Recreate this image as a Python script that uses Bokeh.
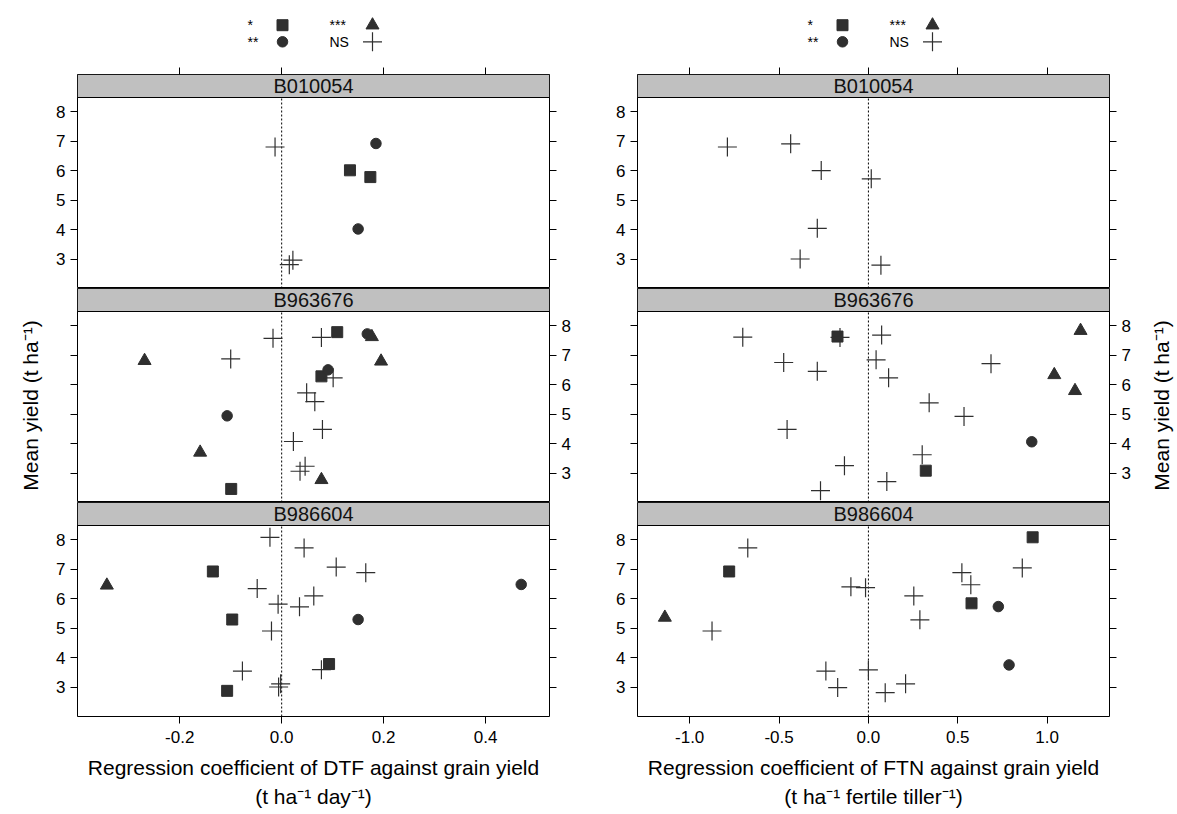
import math
from bokeh.plotting import figure
from bokeh.models import (Range1d, LinearAxis, FixedTicker, Span, Label, Title,
                          CustomJSTickFormatter, PrintfTickFormatter)
from bokeh.core.properties import value
from bokeh.layouts import row, column
from bokeh.embed import file_html
from bokeh.resources import INLINE

FONT = "Liberation Sans"

# ---------------- data ----------------
GENOTYPES = ["B010054", "B963676", "B986604"]
SIG_LEVELS = ["*", "**", "***", "NS"]
YIELD_TICKS = [3, 4, 5, 6, 7, 8]
DTF_TICKS = [-0.2, 0.0, 0.2, 0.4]
FTN_TICKS = [-1.0, -0.5, 0.0, 0.5, 1.0]

# DTF regression coefficients (t ha-1 day-1) vs mean yield
DTF_B010054_X = [-0.013, 0.185, 0.134, 0.174, 0.150, 0.022, 0.015]
DTF_B010054_Y = [6.80, 6.92, 6.01, 5.78, 4.02, 2.96, 2.81]
DTF_B010054_SIG = ["NS", "**", "*", "*", "**", "NS", "NS"]

DTF_B963676_X = [-0.017, 0.078, 0.109, 0.168, 0.177, -0.269, -0.100, 0.195, 0.091, 0.078,
                 0.101, 0.049, 0.065, -0.107, 0.080, 0.023, -0.160, 0.046, 0.036, 0.078, -0.099]
DTF_B963676_Y = [7.57, 7.60, 7.78, 7.72, 7.62, 6.81, 6.87, 6.79, 6.50, 6.28,
                 6.23, 5.72, 5.42, 4.94, 4.48, 4.07, 3.70, 3.23, 3.06, 2.77, 2.46]
DTF_B963676_SIG = ["NS", "NS", "*", "**", "***", "***", "NS", "***", "**", "*",
                   "NS", "NS", "NS", "**", "NS", "NS", "***", "NS", "NS", "***", "*"]

DTF_B986604_X = [-0.023, 0.044, 0.107, 0.165, -0.135, -0.343, 0.470, -0.048, 0.063, -0.007,
                 0.035, -0.097, 0.150, -0.020, 0.093, 0.078, -0.077, -0.002, -0.006, -0.107]
DTF_B986604_Y = [8.08, 7.72, 7.07, 6.88, 6.92, 6.45, 6.48, 6.34, 6.09, 5.81,
                 5.72, 5.29, 5.29, 4.90, 3.78, 3.59, 3.54, 3.11, 3.00, 2.87]
DTF_B986604_SIG = ["NS", "NS", "NS", "NS", "*", "***", "**", "NS", "NS", "NS",
                   "NS", "*", "**", "NS", "*", "NS", "NS", "NS", "NS", "*"]

# FTN regression coefficients (t ha-1 fertile tiller-1) vs mean yield
FTN_B010054_X = [-0.789, -0.435, -0.264, 0.016, -0.286, -0.382, 0.070]
FTN_B010054_Y = [6.80, 6.91, 6.00, 5.72, 4.04, 3.00, 2.79]
FTN_B010054_SIG = ["NS", "NS", "NS", "NS", "NS", "NS", "NS"]

FTN_B963676_X = [-0.703, -0.173, -0.159, 0.074, -0.474, -0.286, 0.043, 0.113, 0.686, 1.187,
                 1.040, 1.156, 0.340, 0.535, -0.455, 0.914, 0.301, 0.321, -0.134, 0.103, -0.268]
FTN_B963676_Y = [7.61, 7.63, 7.60, 7.68, 6.75, 6.45, 6.84, 6.23, 6.71, 7.83,
                 6.33, 5.79, 5.38, 4.92, 4.48, 4.06, 3.62, 3.08, 3.25, 2.71, 2.40]
FTN_B963676_SIG = ["NS", "*", "NS", "NS", "NS", "NS", "NS", "NS", "NS", "***",
                   "***", "***", "NS", "NS", "NS", "**", "NS", "*", "NS", "NS", "NS"]

FTN_B986604_X = [-0.675, -0.779, -1.139, -0.875, -0.098, -0.016, 0.254, 0.288, 0.523, 0.573,
                 0.861, 0.919, 0.577, 0.727, 0.787, -0.238, 0.000, -0.172, 0.094, 0.208]
FTN_B986604_Y = [7.72, 6.92, 5.36, 4.90, 6.40, 6.37, 6.09, 5.28, 6.88, 6.47,
                 7.04, 8.08, 5.84, 5.73, 3.75, 3.54, 3.58, 2.98, 2.81, 3.11]
FTN_B986604_SIG = ["NS", "*", "***", "NS", "NS", "NS", "NS", "NS", "NS", "NS",
                   "NS", "*", "*", "**", "**", "NS", "NS", "NS", "NS", "NS"]

DTF_PANELS = [(DTF_B010054_X, DTF_B010054_Y, DTF_B010054_SIG),
              (DTF_B963676_X, DTF_B963676_Y, DTF_B963676_SIG),
              (DTF_B986604_X, DTF_B986604_Y, DTF_B986604_SIG)]
FTN_PANELS = [(FTN_B010054_X, FTN_B010054_Y, FTN_B010054_SIG),
              (FTN_B963676_X, FTN_B963676_Y, FTN_B963676_SIG),
              (FTN_B986604_X, FTN_B986604_Y, FTN_B986604_SIG)]

Y_TITLE = "Mean yield (t ha\u207b\u00b9)"

# ---------------- layout / style ----------------
FRAME_W = 472
FRAME_H = 214
STRIP_PX = 23
LEG_H = 62
TOP_B = 12
BOT_B = 95
TOTAL_H = LEG_H + TOP_B + 3 * FRAME_H + BOT_B
Y0, Y1 = 2.0, 8.48
Y_END = Y0 + (Y1 - Y0) * FRAME_H / (FRAME_H - STRIP_PX)
XR = {"DTF": (-0.4006, 0.5255), "FTN": (-1.292, 1.349)}
TITLE_W = [50, 37]
TITLE_X = [30, 22]
TITLE_Y = 405
BL = [27, 48]
BR = [40, 30]
INK = "#2f2f2f"
MARKER_STYLE = {"*": ("square", 11), "**": ("circle", 10.5),
                "***": ("triangle", 13), "NS": ("cross", 19)}


def style_axis(ax, ticks, show, fmt="%d"):
    ax.ticker = FixedTicker(ticks=ticks)
    ax.axis_line_color = None
    ax.major_tick_line_color = "black"
    ax.major_tick_in = 0
    ax.major_tick_out = 7
    ax.minor_tick_line_color = None
    ax.major_label_text_font = FONT
    ax.major_label_text_font_size = "17px"
    ax.major_label_text_color = "black"
    ax.major_label_standoff = 5
    ax.axis_label_text_font = FONT
    ax.axis_label_text_font_size = "21px"
    ax.axis_label_text_font_style = "normal"
    ax.axis_label_text_color = "black"
    if show:
        ax.formatter = PrintfTickFormatter(format=fmt)
    else:
        ax.formatter = CustomJSTickFormatter(code="return ''")


def make_panel(kind, col, pos, data, genotype):
    xs, ys, sigs = data
    bl, br = BL[col], BR[col]
    bt = TOP_B if pos == 0 else 0
    bb = BOT_B if pos == 2 else 0
    x0, x1 = XR[kind]
    p = figure(width=bl + FRAME_W + br, height=bt + FRAME_H + bb,
               x_range=Range1d(x0, x1), y_range=Range1d(Y0, Y_END),
               x_axis_location=None, y_axis_location=None,
               output_backend="svg", toolbar_location=None,
               min_border_left=bl, min_border_right=br,
               min_border_top=bt, min_border_bottom=bb)
    p.outline_line_color = "black"
    p.outline_line_width = 1
    p.background_fill_color = "white"
    p.border_fill_color = "white"
    p.grid.visible = False

    xticks = DTF_TICKS if kind == "DTF" else FTN_TICKS

    la = LinearAxis()
    style_axis(la, YIELD_TICKS, pos != 1)
    ra = LinearAxis()
    style_axis(ra, YIELD_TICKS, pos == 1)
    p.add_layout(la, "left")
    p.add_layout(ra, "right")

    if pos == 0:
        ta = LinearAxis()
        style_axis(ta, xticks, False)
        p.add_layout(ta, "above")
    if pos == 2:
        ba = LinearAxis()
        style_axis(ba, xticks, True, "%.1f")
        ba.major_label_standoff = 7
        ba.axis_label_standoff = 10
        if kind == "DTF":
            ba.axis_label = "Regression coefficient of DTF against grain yield"
            sub = "(t ha\u207b\u00b9 day\u207b\u00b9)"
        else:
            ba.axis_label = "Regression coefficient of FTN against grain yield"
            sub = "(t ha\u207b\u00b9 fertile tiller\u207b\u00b9)"
        p.add_layout(ba, "below")
        p.add_layout(Title(text=sub, align="center", text_font=FONT,
                           text_font_size="21px", text_font_style="normal",
                           text_color="black", standoff=3), "below")

    # zero reference line (under the strip)
    p.add_layout(Span(location=0, dimension="height", line_color="black",
                      line_width=1, line_dash="2 2", level="underlay"))

    # strip
    p.quad(left=[x0], right=[x1], bottom=[Y1], top=[Y_END],
           fill_color="#c0c0c0", line_color="black", line_width=1)
    p.add_layout(Label(x=(x0 + x1) / 2, y=(Y1 + Y_END) / 2, text=genotype,
                       text_align="center", text_baseline="middle",
                       text_font=FONT, text_font_size="20px", text_color="#111111"))

    for s in SIG_LEVELS:
        px = [x for x, g in zip(xs, sigs) if g == s]
        py = [y for y, g in zip(ys, sigs) if g == s]
        if not px:
            continue
        mk, sz = MARKER_STYLE[s]
        if mk == "cross":
            p.scatter(px, py, marker=mk, size=sz, line_color=INK, line_width=1.2)
        else:
            p.scatter(px, py, marker=mk, size=sz, fill_color=INK, line_color=INK)
    return p


# legend key layout (pixel positions within the legend strip)
LEG_TEXT_X = [170, 170, 252, 252]
LEG_MARK_X = [205, 205, 295, 295]
LEG_ROW_Y = [24.7, 41.3, 24.7, 41.3]
LEG_ORDER = ["*", "**", "***", "NS"]


def make_legend(col):
    bl, br = BL[col], BR[col]
    p = figure(width=bl + FRAME_W + br, height=LEG_H,
               x_range=Range1d(0, FRAME_W), y_range=Range1d(LEG_H, 0),
               x_axis_location=None, y_axis_location=None,
               output_backend="svg", toolbar_location=None,
               min_border_left=bl, min_border_right=br,
               min_border_top=0, min_border_bottom=0)
    p.outline_line_color = None
    p.grid.visible = False
    p.text(LEG_TEXT_X, LEG_ROW_Y, text=LEG_ORDER, text_font_size=value("14px"),
           text_baseline="middle", text_align="left", text_color="black",
           text_font=value(FONT))
    for i, s in enumerate(LEG_ORDER):
        mk, sz = MARKER_STYLE[s]
        if mk == "cross":
            p.scatter([LEG_MARK_X[i]], [LEG_ROW_Y[i]], marker=mk, size=sz,
                      line_color=INK, line_width=1.2)
        else:
            p.scatter([LEG_MARK_X[i]], [LEG_ROW_Y[i]], marker=mk, size=sz,
                      fill_color=INK, line_color=INK)
    return p


def make_side_title(i):
    w = TITLE_W[i]
    p = figure(width=w, height=TOTAL_H,
               x_range=Range1d(0, w), y_range=Range1d(TOTAL_H, 0),
               x_axis_location=None, y_axis_location=None,
               output_backend="svg", toolbar_location=None,
               min_border=0)
    p.outline_line_color = None
    p.grid.visible = False
    p.add_layout(Label(x=TITLE_X[i], y=TITLE_Y, text=Y_TITLE, angle=math.pi / 2,
                       text_align="center", text_baseline="middle",
                       text_font=FONT, text_font_size="21px", text_color="black"))
    return p


cols = []
for col, (kind, panels) in enumerate([("DTF", DTF_PANELS), ("FTN", FTN_PANELS)]):
    figs = [make_legend(col)]
    for pos in range(3):
        figs.append(make_panel(kind, col, pos, panels[pos], GENOTYPES[pos]))
    cols.append(column(*figs, spacing=0))

layout = row(make_side_title(0), cols[0], cols[1], make_side_title(1), spacing=0)

open("out.html", "w").write(file_html(layout, INLINE))
